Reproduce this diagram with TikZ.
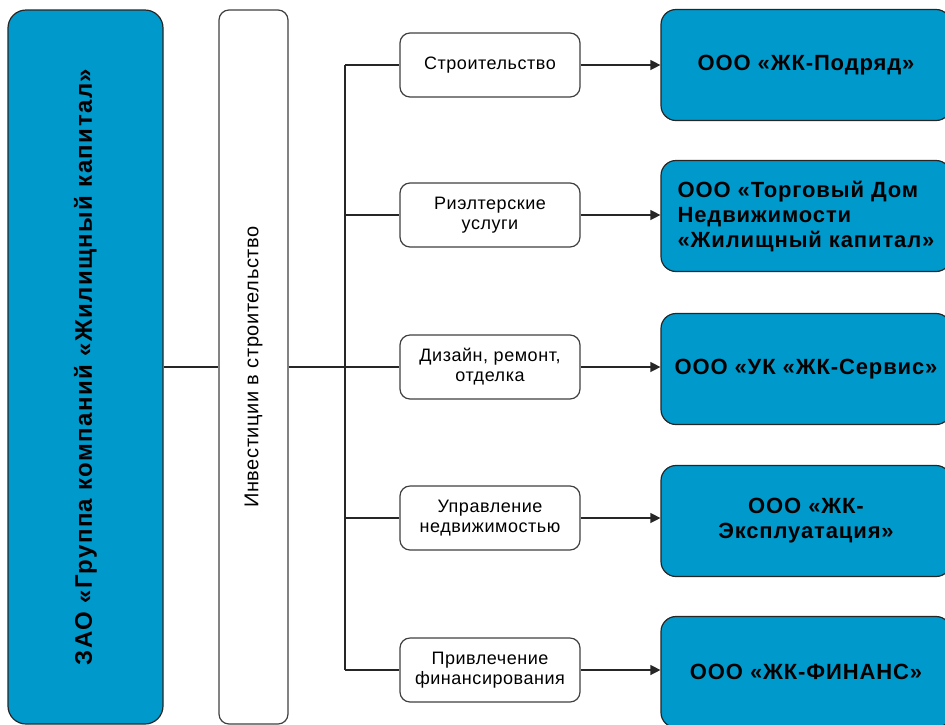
\documentclass[tikz,border=0pt]{standalone}
\usepackage{fontspec}
\setmainfont{Liberation Sans}
\usetikzlibrary{positioning, arrows.meta}
\definecolor{zkblue}{RGB}{0,153,204}

\begin{document}
\begin{tikzpicture}[x=1pt, y=-1pt,
  holding/.style = {draw=black!85, fill=zkblue, rounded corners=18, line width=1.2, rotate=90,
    minimum width=714, minimum height=155,
    font=\bfseries\fontsize{24}{28}\selectfont\addfontfeature{LetterSpace=6}},
  invest/.style = {draw=black!75, fill=white, rounded corners=10, line width=1.2, rotate=90,
    minimum width=714, minimum height=69,
    font=\fontsize{20}{24}\selectfont\addfontfeature{LetterSpace=3}},
  act/.style = {draw=black!75, fill=white, rounded corners=10, line width=1.2,
    minimum width=180, minimum height=64, align=center,
    font=\fontsize{18}{20}\selectfont\addfontfeature{LetterSpace=3}},
  firm/.style = {draw=black!85, fill=zkblue, rounded corners=15, line width=1.2,
    minimum width=290, minimum height=111, align=center,
    font=\bfseries\fontsize{22}{25}\selectfont\addfontfeature{LetterSpace=4}},
  link/.style = {line width=1.3, black!85},
  arrow/.style = {link, -{Triangle[length=10pt, width=10pt]}}]
\useasboundingbox (0,0) rectangle (945,724);

\node[holding] (zao) at (85.5,367) {ЗАО «Группа компаний «Жилищный капитал»};
\node[invest] (inv) at (253.5,367) {Инвестиции в строительство};

\node[act] (act1) at (490,65) {Строительство};
\node[act] (act2) at (490,215) {Риэлтерские\\услуги};
\node[act] (act3) at (490,367) {Дизайн, ремонт,\\отделка};
\node[act] (act4) at (490,518) {Управление\\недвижимостью};
\node[act] (act5) at (490,670) {Привлечение\\финансирования};

\node[firm] (firm1) at (806,65) {ООО «ЖК-Подряд»};
\node[firm, align=left] (firm2) at (806,216) {ООО «Торговый Дом\\Недвижимости\\«Жилищный капитал»};
\node[firm] (firm3) at (806,369) {ООО «УК «ЖК-Сервис»};
\node[firm] (firm4) at (806,521) {ООО «ЖК-\\Эксплуатация»};
\node[firm] (firm5) at (806,672) {ООО «ЖК-ФИНАНС»};

\coordinate (bustop) at (345,65);
\coordinate (busbot) at (345,670);

% main line and bus
\draw[link] (zao.south) -- (inv.north);
\draw[link] (inv.south) -- (inv.south -| bustop);
\draw[link] (bustop) -- (busbot);

% branches
\path (act1.west -| bustop) edge [link] (act1.west);
\path (act2.west -| bustop) edge [link] (act2.west);
\path (act3.west -| bustop) edge [link] (act3.west);
\path (act4.west -| bustop) edge [link] (act4.west);
\path (act5.west -| bustop) edge [link] (act5.west);

\path (act1.east) edge [arrow] (act1.east -| firm1.west);
\path (act2.east) edge [arrow] (act2.east -| firm2.west);
\path (act3.east) edge [arrow] (act3.east -| firm3.west);
\path (act4.east) edge [arrow] (act4.east -| firm4.west);
\path (act5.east) edge [arrow] (act5.east -| firm5.west);
\end{tikzpicture}
\end{document}
